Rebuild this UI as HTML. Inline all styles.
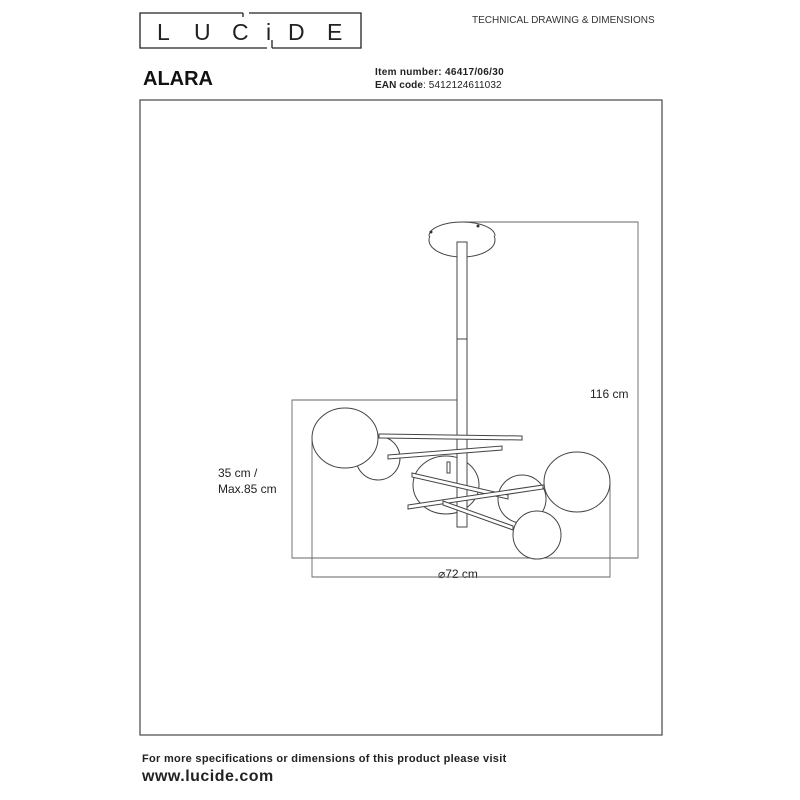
<!DOCTYPE html>
<html><head><meta charset="utf-8"><style>
body{margin:0;background:#fff;width:800px;height:800px;overflow:hidden;font-family:"Liberation Sans",sans-serif}
svg{position:absolute;left:0;top:0}
</style></head><body>
<svg width="800" height="800" viewBox="0 0 800 800">
<g fill="none" stroke="#222" stroke-width="1.3">
<path d="M243 13 H140 V48 H267 M249 13 H361 V48 H272 M243 13 V17 M272 48 V40"/>
</g>
<g font-family="Liberation Sans, sans-serif" fill="#222">
<text x="157" y="40" font-size="23">L</text>
<text x="194" y="40" font-size="23">U</text>
<text x="232" y="40" font-size="23">C</text>
<text x="266" y="40" font-size="23">i</text>
<text x="288" y="40" font-size="23">D</text>
<text x="327" y="40" font-size="23">E</text>
<text x="472" y="23" font-size="10" fill="#333">TECHNICAL DRAWING &amp; DIMENSIONS</text>
<text x="143" y="85" font-size="20" font-weight="bold" fill="#111">ALARA</text>
<text x="375" y="75" font-size="10" font-weight="bold" letter-spacing="0.3">Item number: 46417/06/30</text>
<text x="375" y="88" font-size="10" letter-spacing="0.1"><tspan font-weight="bold">EAN code</tspan>: 5412124611032</text>
<text x="590" y="398" font-size="12">116 cm</text>
<text x="218" y="477" font-size="12">35 cm /</text>
<text x="218" y="493" font-size="12">Max.85 cm</text>
<text x="438" y="578" font-size="12">⌀72 cm</text>
<text x="142" y="762" font-size="11" font-weight="bold" letter-spacing="0.3">For more specifications or dimensions of this product please visit</text>
<text x="142" y="781" font-size="16" font-weight="bold" letter-spacing="0.5">www.lucide.com</text>
</g>
<rect x="140" y="100" width="522" height="635" fill="none" stroke="#555" stroke-width="1.3"/>
<g fill="none" stroke="#666" stroke-width="0.9">
<path d="M462 222 H638 V558 H292 V400 H457"/>
<path d="M312 440 V577 H610 V483"/>
</g>
<g fill="#fff" stroke="#444" stroke-width="1">
<ellipse cx="462" cy="240" rx="33" ry="17"/>
<path d="M429 236 A33 14 0 0 1 495 236" />
<rect x="457" y="242" width="10" height="285"/>
<line x1="457" y1="339" x2="467" y2="339"/>
<ellipse cx="378" cy="458" rx="22" ry="22"/>
<ellipse cx="345" cy="438" rx="33" ry="30"/>
<ellipse cx="446" cy="485" rx="33" ry="29"/>
<ellipse cx="522" cy="499" rx="24" ry="24"/>
<ellipse cx="577" cy="482" rx="33" ry="30"/>
<rect x="457.5" y="440" width="9" height="86.5" stroke="none"/>
<path d="M457 440 V527 H467 V440"/>
<polygon points="379,434 522,436 522,440 379,438"/>
<polygon points="388,455 502,446 502,450 388,459"/>
<polygon points="412,473 508,495 508,499 412,477"/>
<polygon points="408,505 543,485 543,489 408,509"/>
<polygon points="443,501 513,526 513,530 443,505"/>
<ellipse cx="537" cy="535" rx="24" ry="24"/>
<rect x="447" y="462" width="3" height="11"/>
</g>
<circle cx="431" cy="232" r="1.5" fill="#333"/><circle cx="478" cy="226" r="1.5" fill="#333"/>
</svg>
</body></html>
